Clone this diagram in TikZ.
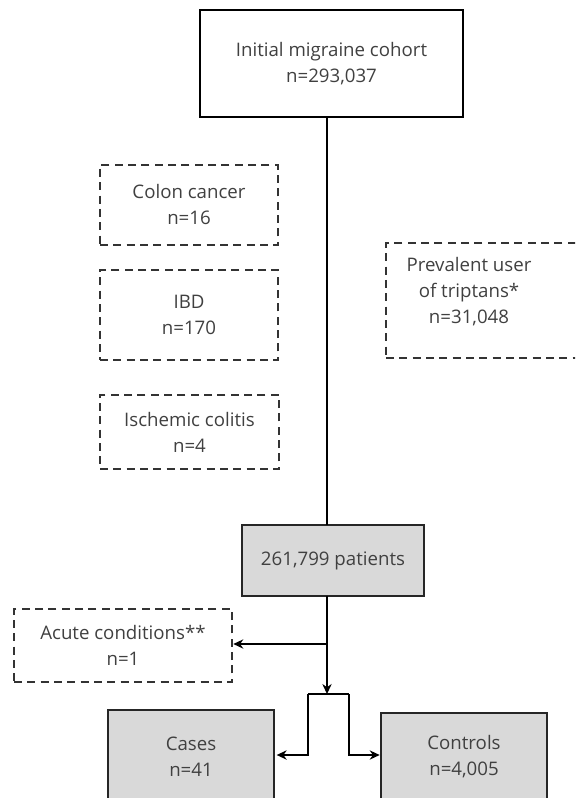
\documentclass[tikz,border=0pt]{standalone}
\usepackage{fontspec}
\setmainfont{Open Sans}
\usetikzlibrary{arrows.meta}
\definecolor{txt}{HTML}{404040}
\definecolor{fillg}{HTML}{D9D9D9}
\begin{document}
\begin{tikzpicture}[x=0.75pt,y=-0.75pt,
  every node/.style={inner sep=0pt,outer sep=0pt,align=center,text=txt,font=\fontsize{14}{19.5}\selectfont},
  solidbox/.style={draw=black,line width=1pt},
  dashbox/.style={draw=black!80,line width=1pt,dash pattern=on 6pt off 4pt},
  greybox/.style={draw=black!85,line width=1pt,fill=fillg},
  arr/.style={draw=black,line width=1pt,-{Stealth[length=7.5pt,width=7pt]}},
  conn/.style={draw=black,line width=1pt}]
\useasboundingbox (0,0) rectangle (575,798);
\clip (0,0) rectangle (575,798);
% boxes
\node[solidbox,minimum width=263*0.75pt,minimum height=107*0.75pt] (top) at (331.5,63.5) {Initial migraine cohort\\n=293,037};
\node[dashbox,minimum width=178*0.75pt,minimum height=80*0.75pt] (colon) at (189,205) {Colon cancer\\n=16};
\node[dashbox,minimum width=178*0.75pt,minimum height=90*0.75pt] (ibd) at (189,315) {IBD\\n=170};
\node[dashbox,minimum width=179*0.75pt,minimum height=74*0.75pt] (isch) at (189.5,432) {Ischemic colitis\\n=4};
\node[dashbox,minimum width=204*0.75pt,minimum height=115*0.75pt] (prev) at (488,300.5) {};
\node (prevtxt) at (469,292) {Prevalent user\\of triptans*\\n=31,048};
\node[greybox,minimum width=182*0.75pt,minimum height=71*0.75pt] (pat) at (333,560.5) {261,799 patients};
\node[dashbox,minimum width=218*0.75pt,minimum height=73*0.75pt] (acute) at (123,645.5) {Acute conditions**\\n=1};
\node[greybox,minimum width=166*0.75pt,minimum height=130*0.75pt] (cases) at (191,775) {};
\node (casestxt) at (191,757) {Cases\\n=41};
\node[greybox,minimum width=166*0.75pt,minimum height=130*0.75pt] (ctrl) at (464,778) {};
\node (ctrltxt) at (464,757) {Controls\\n=4,005};
% connectors
\coordinate (j1) at (327,644);
\coordinate (brk) at (327,694);
\coordinate (bl) at (308,694);
\coordinate (br) at (349,694);
\coordinate (lvl) at (0,755);
\draw[conn] (top.south -| j1) -- (pat.north -| j1);
\draw[arr] (pat.south -| j1) -- (brk);
\draw[arr,shorten >=1pt] (j1) -- (acute.east |- j1);
\draw[conn] (bl) -- (br);
\draw[arr,shorten >=2pt] (bl) |- (cases.east |- lvl);
\draw[arr,shorten >=1pt] (br) |- (ctrl.west |- lvl);
\end{tikzpicture}
\end{document}
